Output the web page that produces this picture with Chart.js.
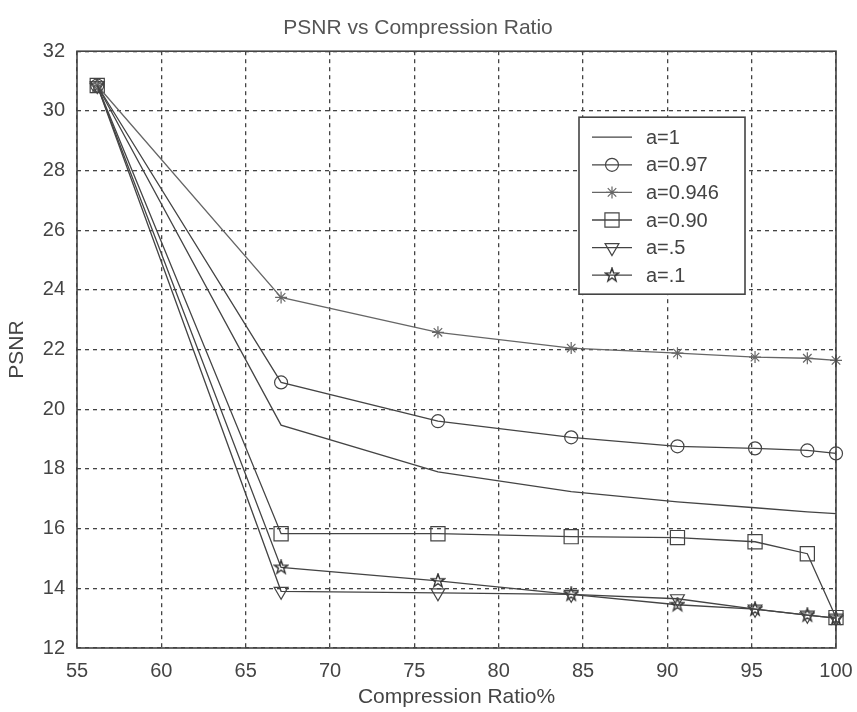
<!DOCTYPE html>
<html lang="en">
<head>
<meta charset="UTF-8" />
<title>PSNR vs Compression Ratio</title>
<script src="https://cdn.jsdelivr.net/npm/chart.js"></script>
<style>
  body { margin: 0; background: #fff; }
</style>
</head>
<body>
<canvas id="psnr" width="857" height="712"></canvas>
<script>
// values
const compressionRatio = [56.2, 67.1, 76.4, 84.3, 90.6, 95.2, 98.3, 100];
const psnrA1    = [30.85, 19.47, 17.9, 17.24, 16.9, 16.7, 16.56, 16.5];
const psnrA097  = [30.85, 20.9, 19.6, 19.06, 18.76, 18.69, 18.62, 18.52];
const psnrA0946 = [30.85, 23.75, 22.58, 22.05, 21.88, 21.75, 21.71, 21.64];
const psnrA090  = [30.85, 15.83, 15.83, 15.73, 15.7, 15.56, 15.16, 13.02];
const psnrA05   = [30.85, 13.9, 13.85, 13.8, 13.65, 13.3, 13.1, 13.0];
const psnrA01   = [30.85, 14.7, 14.25, 13.8, 13.45, 13.3, 13.1, 13.0];
const seriesLabels = ['a=1', 'a=0.97', 'a=0.946', 'a=0.90', 'a=.5', 'a=.1'];
const xTicks = [55, 60, 65, 70, 75, 80, 85, 90, 95, 100];
const yTicks = [12, 14, 16, 18, 20, 22, 24, 26, 28, 30, 32];

const ink = '#444';
const font = "'Liberation Sans', Arial, sans-serif";

// matlab style pentagram marker, chart.js has none
function pentagram(size) {
  const c = document.createElement('canvas');
  c.width = c.height = size;
  const g = c.getContext('2d');
  const r = size / 2 - 1, ri = r * 0.4;
  g.beginPath();
  for (let i = 0; i < 10; i++) {
    const ang = -Math.PI / 2 + i * Math.PI / 5;
    const rr = i % 2 ? ri : r;
    g.lineTo(size / 2 + rr * Math.cos(ang), size / 2 + rr * Math.sin(ang));
  }
  g.closePath();
  g.strokeStyle = '#333';
  g.lineWidth = 1.4;
  g.stroke();
  return c;
}

const toPoints = (ys) => ys.map((y, i) => ({ x: compressionRatio[i], y: y }));

const series = [psnrA1, psnrA097, psnrA0946, psnrA090, psnrA05, psnrA01];
const lineColors = [ink, ink, '#666', ink, ink, ink];
const markers = [
  { style: 'circle', radius: 0 },
  { style: 'circle', radius: 6.5 },
  { style: 'star', radius: 6 },
  { style: 'rect', radius: 10 },
  { style: 'triangle', radius: 8, rotation: 180 },
  { style: pentagram(16), radius: 8 },
];

const datasets = series.map((ys, i) => ({
  label: seriesLabels[i],
  data: toPoints(ys),
  borderColor: lineColors[i],
  borderWidth: 1.3,
  tension: 0,
  fill: false,
  clip: false,
  pointStyle: markers[i].style,
  pointRadius: markers[i].radius,
  pointRotation: markers[i].rotation || 0,
  pointBorderColor: lineColors[i],
  pointBorderWidth: 1.2,
  pointBackgroundColor: 'rgba(0,0,0,0)',
}));

// box round the axes + legend inside the plot, like matlab draws it
const frameAndLegend = {
  id: 'frameAndLegend',
  afterDatasetsDraw(chart) {
    const { ctx, chartArea } = chart;
    ctx.save();
    ctx.strokeStyle = ink;
    ctx.lineWidth = 1.6;
    ctx.strokeRect(chartArea.left, chartArea.top, chartArea.right - chartArea.left, chartArea.bottom - chartArea.top);

    const x0 = chartArea.left + 502, y0 = chartArea.top + 66, w = 166, h = 177;
    ctx.fillStyle = '#fff';
    ctx.fillRect(x0, y0, w, h);
    ctx.strokeRect(x0, y0, w, h);

    ctx.font = '20px ' + font;
    ctx.textBaseline = 'middle';
    chart.data.datasets.forEach((ds, i) => {
      const y = y0 + 20 + i * 27.6;
      ctx.beginPath();
      ctx.moveTo(x0 + 13, y);
      ctx.lineTo(x0 + 53, y);
      ctx.strokeStyle = ds.borderColor;
      ctx.lineWidth = ds.borderWidth;
      ctx.stroke();
      if (ds.pointRadius > 0 && Chart.helpers && Chart.helpers.drawPoint) {
        ctx.fillStyle = 'rgba(0,0,0,0)';
        ctx.lineWidth = ds.pointBorderWidth;
        Chart.helpers.drawPoint(ctx, {
          pointStyle: ds.pointStyle,
          rotation: ds.pointRotation,
          radius: ds.pointRadius,
          borderWidth: ds.pointBorderWidth,
        }, x0 + 33, y);
      }
      ctx.fillStyle = ink;
      ctx.fillText(ds.label, x0 + 67, y + 1);
    });
    ctx.restore();
  },
};

const gridStyle = {
  color: '#444',
  lineWidth: 1.3,
  drawTicks: false,
};

new Chart(document.getElementById('psnr'), {
  type: 'line',
  data: { datasets: datasets },
  plugins: [frameAndLegend],
  options: {
    responsive: false,
    animation: false,
    layout: { padding: { left: 0, right: 21, top: 0, bottom: 0 } },
    plugins: {
      legend: { display: false },
      tooltip: { enabled: false },
      title: {
        display: true,
        text: 'PSNR vs Compression Ratio',
        color: '#555',
        font: { family: font, size: 21, weight: 'normal' },
        padding: { top: 16, bottom: 10 },
      },
    },
    scales: {
      x: {
        type: 'linear',
        min: 55,
        max: 100,
        afterBuildTicks: (scale) => { scale.ticks = xTicks.map((v) => ({ value: v })); },
        afterFit: (scale) => {
          scale.height = 64;
          scale.paddingLeft = 0;
          scale.paddingRight = 0;
        },
        grid: gridStyle,
        border: { display: false, dash: [4, 4] },
        ticks: { color: ink, padding: 11, font: { family: font, size: 20 } },
        title: {
          display: true,
          text: 'Compression Ratio%',
          color: ink,
          font: { family: font, size: 21 },
          padding: { top: 0, bottom: 2 },
        },
      },
      y: {
        min: 12,
        max: 32,
        afterBuildTicks: (scale) => { scale.ticks = yTicks.map((v) => ({ value: v })); },
        afterFit: (scale) => { scale.width = 77; },
        grid: gridStyle,
        border: { display: false, dash: [4, 4] },
        ticks: { color: ink, padding: 12, font: { family: font, size: 20 } },
        title: {
          display: true,
          text: 'PSNR',
          color: ink,
          font: { family: font, size: 21 },
          padding: { top: 5, bottom: 0 },
        },
      },
    },
  },
});
</script>
</body>
</html>
